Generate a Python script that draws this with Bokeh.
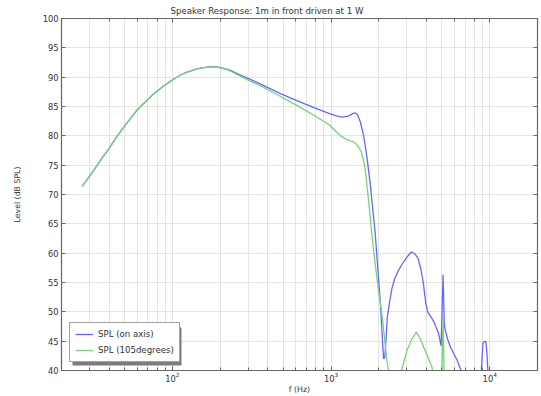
from bokeh.plotting import figure
from bokeh.models import (LogAxis, LinearAxis, Range1d, SingleIntervalTicker, LogTicker,
                          Legend, LegendItem, BoxAnnotation, ColumnDataSource)
from bokeh.embed import file_html
from bokeh.resources import INLINE

# ---- data ----
freq_on_axis = [27, 30, 33, 36, 40, 45, 51, 56, 60, 64, 69, 75, 80, 88, 96, 105, 115, 125,
                135, 145, 155, 172, 190, 210, 230, 266, 300, 374, 480, 608, 780, 987, 1080,
                1170, 1280, 1360, 1419, 1470, 1530, 1600, 1680, 1766, 1898, 2041, 2120,
                2144, 2180, 2210, 2260, 2335, 2420, 2514, 2640, 2770, 3000, 3206, 3380,
                3540, 3680, 3811, 3950, 4066, 4250, 4450, 4750, 4887, 4940, 5080, 5170,
                5250, 5450, 5650, 5950, 6220, 6530, 6800, 7500, 8500, 8850, 9050, 9170,
                9450, 9600, 9730, 10200, 20000]
spl_on_axis = [71.4, 73.1, 74.7, 76.2, 77.9, 80.0, 82.0, 83.4, 84.4, 85.2, 86.0, 87.0, 87.6,
               88.5, 89.2, 89.9, 90.5, 90.9, 91.2, 91.45, 91.6, 91.8, 91.75, 91.5, 91.2,
               90.4, 89.8, 88.6, 87.2, 86.0, 84.8, 83.75, 83.4, 83.2, 83.35, 83.75, 83.9,
               83.6, 82.3, 80.2, 76.5, 71.8, 63.3, 51.9, 44.0, 42.0, 42.2, 44.5, 49.0, 51.6,
               54.0, 55.6, 56.9, 57.9, 59.3, 60.2, 59.9, 59.0, 57.3, 55.0, 51.5, 50.0, 49.2,
               48.3, 46.4, 44.8, 44.2, 56.3, 48.0, 46.8, 45.2, 44.0, 42.8, 41.8, 40.3, 38.5,
               33.0, 33.0, 40.0, 44.6, 44.9, 44.9, 43.0, 40.0, 35.0, 30.0]

freq_105 = [27, 30, 33, 36, 40, 45, 51, 56, 60, 64, 69, 75, 80, 88, 96, 105, 115, 125, 135,
            145, 155, 172, 190, 210, 230, 266, 300, 374, 480, 608, 780, 987, 1050, 1150,
            1250, 1320, 1384, 1440, 1490, 1550, 1600, 1641, 1720, 1806, 1900, 1991, 2090,
            2170, 2249, 2303, 2500, 2797, 3006, 3236, 3443, 3656, 3830, 4121, 4325, 4500,
            4900, 4990, 5080, 5170, 5300, 20000]
spl_105 = [71.4, 73.1, 74.7, 76.2, 77.9, 80.0, 82.0, 83.4, 84.4, 85.2, 86.0, 87.0, 87.6,
           88.5, 89.2, 89.9, 90.5, 90.9, 91.2, 91.45, 91.6, 91.8, 91.7, 91.45, 91.1, 90.2,
           89.5, 88.3, 86.7, 85.2, 83.5, 81.76, 81.0, 80.0, 79.4, 79.15, 79.0, 78.6, 78.1,
           77.3, 75.9, 74.3, 69.2, 63.3, 58.0, 53.6, 49.7, 45.6, 41.7, 40.0, 34.0, 40.3,
           43.4, 45.4, 46.55, 45.4, 44.0, 42.0, 40.6, 37.0, 35.0, 38.0, 49.1, 38.0, 35.0,
           30.0]

y_ticks_interval = 5
title_text = "Speaker Response: 1m in front driven at 1 W"
x_label = "f (Hz)"
y_label = "Level (dB SPL)"
labels = ["SPL (on axis)", "SPL (105degrees)"]
colors = ["#6666ff", "#77d477"]

FONT = "DejaVu Sans"
TXT = "#333333"
AX = "#666666"

p = figure(width=541, height=396, x_axis_type="log",
           x_range=Range1d(20, 20000), y_range=Range1d(40, 100),
           output_backend="svg", toolbar_location=None,
           min_border_left=61, min_border_right=4, min_border_top=18, min_border_bottom=26,
           background_fill_color="white", border_fill_color="white")

p.title.text = title_text
p.title.text_font = FONT
p.title.text_font_size = "8.6px"
p.title.text_font_style = "normal"
p.title.text_color = TXT
p.title.align = "left"
p.title.offset = 109
p.title.standoff = 6

p.outline_line_color = AX
p.outline_line_width = 1.2

def style_axis(ax, labels_on=True):
    ax.axis_line_color = AX
    ax.major_tick_line_color = AX
    ax.minor_tick_line_color = AX
    ax.major_tick_in = 4
    ax.major_tick_out = 0
    ax.minor_tick_in = 3
    ax.minor_tick_out = 0
    ax.major_label_text_font = FONT
    ax.major_label_text_font_size = "8.3px" if labels_on else "1px"
    ax.major_label_text_color = TXT if labels_on else None
    ax.major_label_standoff = 3 if labels_on else 0
    ax.axis_label_text_font = FONT
    ax.axis_label_text_font_size = "7.8px"
    ax.axis_label_text_font_style = "normal"
    ax.axis_label_text_color = TXT

xa = p.xaxis[0]
style_axis(xa)
xa.axis_label = x_label
xa.axis_label_standoff = 0
xa.major_label_standoff = 1

ya = p.yaxis[0]
ya.ticker = SingleIntervalTicker(interval=y_ticks_interval, num_minor_ticks=0)
style_axis(ya)
ya.axis_label = y_label
ya.axis_label_standoff = 18
ya.minor_tick_line_color = None

top = LogAxis(ticker=LogTicker())
style_axis(top, labels_on=False)
p.add_layout(top, "above")

right = LinearAxis(ticker=SingleIntervalTicker(interval=y_ticks_interval, num_minor_ticks=0))
style_axis(right, labels_on=False)
right.minor_tick_line_color = None
p.add_layout(right, "right")

p.xgrid.grid_line_color = "#e4e4e4"
p.xgrid.minor_grid_line_color = "#e4e4e4"
p.ygrid.grid_line_color = "#e4e4e4"
p.ygrid.ticker = SingleIntervalTicker(interval=y_ticks_interval)

src_on = ColumnDataSource(dict(f=freq_on_axis, v=spl_on_axis))
src_105 = ColumnDataSource(dict(f=freq_105, v=spl_105))
r1 = p.line("f", "v", source=src_on, line_color=colors[0], line_width=1.3)
r2 = p.line("f", "v", source=src_105, line_color=colors[1], line_width=1.3)

# legend drop shadow (screen units relative to the plot frame, y measured from its bottom)
shadow = BoxAnnotation(left=11, right=120, bottom=5, top=43,
                       left_units="screen", right_units="screen",
                       top_units="screen", bottom_units="screen",
                       fill_color="#6e6e6e", fill_alpha=0.9, line_color=None,
                       level="annotation")
p.add_layout(shadow)

legend = Legend(items=[LegendItem(label=labels[0], renderers=[r1]),
                       LegendItem(label=labels[1], renderers=[r2])],
                location="bottom_left", margin=8, padding=5, spacing=4,
                label_height=12, glyph_height=12, glyph_width=18, label_standoff=5,
                label_text_font=FONT, label_text_font_size="8.6px", label_text_color=TXT,
                border_line_color="#444444", border_line_width=1.5,
                background_fill_color="white", background_fill_alpha=1.0)
p.add_layout(legend, "center")

open("out.html", "w").write(file_html(p, INLINE))
